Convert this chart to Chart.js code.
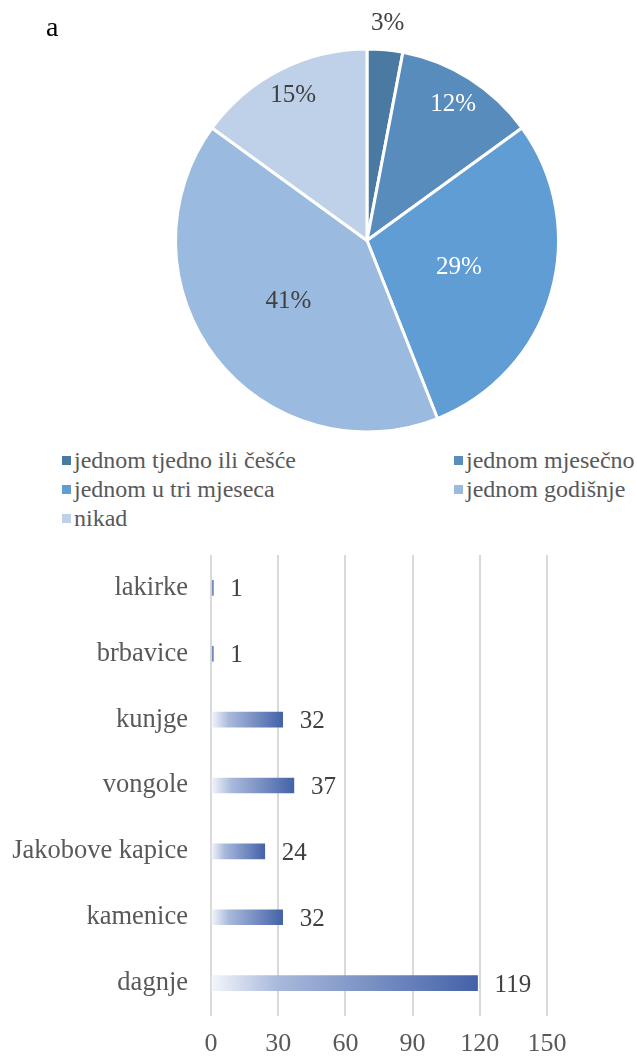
<!DOCTYPE html>
<html>
<head>
<meta charset="utf-8">
<script src="https://cdn.jsdelivr.net/npm/chart.js@4"></script>
<style>
  html, body { margin:0; padding:0; background:#fff; }
  #wrap { position:relative; width:637px; height:1059px; overflow:hidden; font-family:'Liberation Serif', 'Times New Roman', serif; }
  #tag { position:absolute; left:46px; top:11px; font-size:28px; color:#000; }
  #pie { position:absolute; left:0; top:0; }
  #bars { position:absolute; left:0; top:545px; }
  #legend { position:absolute; left:62px; top:446px; display:grid; grid-template-columns:392px auto; }
  #legend .it { display:flex; align-items:center; font-size:24px; color:#595959; height:29px; white-space:nowrap; }
  #legend .sq { width:9px; height:9px; margin-right:3px; flex:none; }
</style>
</head>
<body>
<div id="wrap">
  <canvas id="pie" width="637" height="445"></canvas>
  <div id="tag">a</div>
  <div id="legend"></div>
  <canvas id="bars" width="637" height="514"></canvas>
</div>
<script>
const pieLabels = ['jednom tjedno ili češće','jednom mjesečno','jednom u tri mjeseca','jednom godišnje','nikad'];
const pieValues = [3, 12, 29, 41, 15];
const pieColors = ['#4a79a2','#588cbd','#5f9dd4','#9bbadf','#bed1e9'];

const barLabels = ['lakirke','brbavice','kunjge','vongole','Jakobove kapice','kamenice','dagnje'];
const barValues = [1, 1, 32, 37, 24, 32, 119];
const xTicks = [0, 30, 60, 90, 120, 150];

const SERIF = "'Liberation Serif', 'Times New Roman', serif";

// legend in two columns, like the original
const legendEl = document.getElementById('legend');
pieLabels.forEach((l,i)=>{
  const d = document.createElement('div');
  d.className = 'it';
  d.innerHTML = `<span class="sq" style="background:${pieColors[i]}"></span>${l}`;
  legendEl.appendChild(d);
});

// percent labels on the pie
const pieText = {
  id:'pieText',
  afterDatasetsDraw(chart, args, opts){
    const ctx = chart.ctx;
    const arcs = chart.getDatasetMeta(0).data;
    ctx.save();
    ctx.font = '25px ' + SERIF;
    ctx.textAlign = 'center';
    ctx.textBaseline = 'middle';
    arcs.forEach((a,i)=>{
      const mid = (a.startAngle + a.endAngle)/2;
      const r = a.outerRadius * opts.dist[i];
      ctx.fillStyle = opts.colors[i];
      ctx.fillText(pieValues[i] + '%', a.x + Math.cos(mid)*r, a.y + Math.sin(mid)*r);
    });
    ctx.restore();
  }
};

new Chart(document.getElementById('pie'), {
  type:'pie',
  data:{ labels:pieLabels, datasets:[{ data:pieValues, backgroundColor:pieColors, borderColor:'#fff', borderWidth:3 }] },
  options:{
    responsive:false, animation:false,
    layout:{ padding:{ top:47, bottom:11, left:174, right:77 } },
    plugins:{
      legend:{ display:false }, tooltip:{ enabled:false },
      pieText:{ dist:[1.14,0.84,0.5,0.52,0.85], colors:['#404040','#fff','#fff','#404040','#404040'] }
    }
  },
  plugins:[pieText]
});

// value labels at bar ends
const barText = {
  id:'barText',
  afterDatasetsDraw(chart){
    const ctx = chart.ctx;
    ctx.save();
    ctx.font = '25px ' + SERIF;
    ctx.fillStyle = '#404040';
    ctx.textBaseline = 'middle';
    chart.getDatasetMeta(0).data.forEach((b,i)=>{
      ctx.fillText(String(barValues[i]), b.x + 17, b.y + 2);
    });
    ctx.restore();
  }
};

new Chart(document.getElementById('bars'), {
  type:'bar',
  data:{ labels:barLabels, datasets:[{
    data:barValues,
    barThickness:15,
    backgroundColor(c){
      const {chart} = c;
      if (!chart.chartArea) return '#4462a8';
      const x = chart.scales.x;
      const g = chart.ctx.createLinearGradient(x.getPixelForValue(0), 0, x.getPixelForValue(barValues[c.dataIndex]), 0);
      g.addColorStop(0, '#f4f6fb');
      g.addColorStop(0.25, '#a9b9dc');
      g.addColorStop(1, '#4462a8');
      return g;
    }
  }]},
  options:{
    indexAxis:'y', responsive:false, animation:false,
    layout:{ padding:{ top:10, right:90, left:0, bottom:0 } },
    plugins:{ legend:{ display:false }, tooltip:{ enabled:false } },
    scales:{
      x:{
        min:0, max:150,
        afterBuildTicks(s){ s.ticks = xTicks.map(v=>({value:v})); },
        grid:{ color:'#d9d9d9', lineWidth:2, drawTicks:false },
        border:{ display:false },
        ticks:{ font:{ family:SERIF, size:26 }, color:'#595959', padding:13 },
        afterFit(s){ s.height = 43; }
      },
      y:{
        grid:{ display:false, drawTicks:false },
        border:{ display:false },
        ticks:{ font:{ family:SERIF, size:26.5 }, color:'#595959', padding:23 },
        afterFit(s){ s.width = 211; s.paddingTop = 0; s.paddingBottom = 0; }
      }
    }
  },
  plugins:[barText]
});
</script>
</body>
</html>
